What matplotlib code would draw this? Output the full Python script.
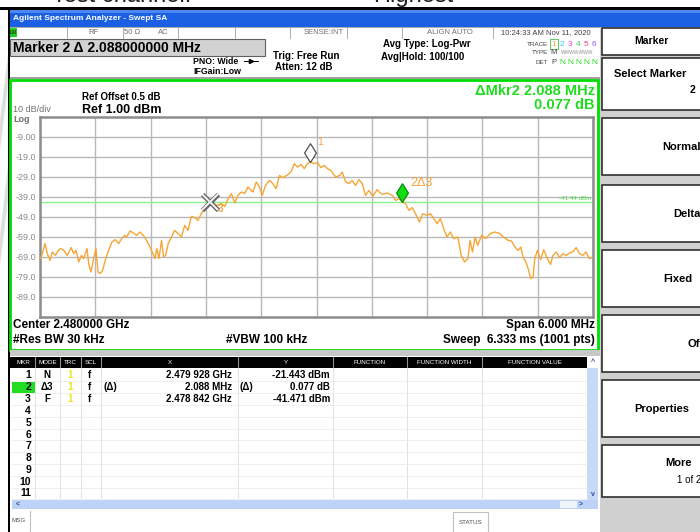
import numpy as np
import matplotlib.pyplot as plt
from matplotlib.patches import Rectangle, Polygon
from matplotlib.path import Path

plt.rcParams['font.family'] = ['Liberation Sans', 'DejaVu Sans']

# trace 1: offset from centre (MHz), level (dBm)
offset_mhz = [-2.993, -2.968, -2.946, -2.921, -2.892, -2.867, -2.831, -2.802, -2.777, -2.741,
              -2.705, -2.662, -2.634, -2.608, -2.580, -2.551, -2.526, -2.490, -2.472, -2.447,
              -2.418, -2.393, -2.371, -2.346, -2.321, -2.292, -2.256, -2.220, -2.184, -2.148,
              -2.113, -2.084, -2.059, -2.023, -1.987, -1.951, -1.915, -1.879, -1.843, -1.807,
              -1.782, -1.753, -1.732, -1.710, -1.681, -1.660, -1.638, -1.609, -1.574, -1.538,
              -1.502, -1.466, -1.430, -1.394, -1.358, -1.322, -1.286, -1.250, -1.214, -1.158,
              -1.085, -1.031, -0.995, -0.959, -0.923, -0.887, -0.852, -0.816, -0.780, -0.744,
              -0.719, -0.690, -0.654, -0.618, -0.589, -0.553, -0.510, -0.474, -0.438, -0.402,
              -0.366, -0.323, -0.277, -0.241, -0.205, -0.169, -0.133, -0.097, -0.072, -0.025,
              0.011, 0.047, 0.083, 0.119, 0.155, 0.208, 0.252, 0.280, 0.316, 0.352,
              0.388, 0.424, 0.460, 0.496, 0.532, 0.568, 0.611, 0.658, 0.679, 0.715,
              0.769, 0.823, 0.859, 0.895, 0.930, 0.966, 1.002, 1.038, 1.074, 1.117,
              1.153, 1.200, 1.236, 1.272, 1.308, 1.344, 1.380, 1.416, 1.452, 1.488,
              1.534, 1.570, 1.606, 1.642, 1.667, 1.692, 1.721, 1.749, 1.792, 1.836,
              1.883, 1.937, 1.990, 2.026, 2.080, 2.116, 2.152, 2.188, 2.217, 2.242,
              2.267, 2.296, 2.325, 2.350, 2.368, 2.397, 2.432, 2.465, 2.504, 2.540,
              2.565, 2.601, 2.637, 2.673, 2.709, 2.745, 2.781, 2.817, 2.853, 2.889,
              2.924, 2.960, 2.986]
level_dbm = [-69.8, -66.3, -62.3, -67.3, -70.7, -66.5, -68.2, -65.7, -64.8, -65.7,
             -68.2, -64.3, -67.3, -65.7, -71.5, -68.2, -69.8, -64.8, -72.3, -76.5,
             -69.8, -64.8, -76.5, -77.3, -75.7, -70.7, -65.7, -61.5, -60.3, -62.3,
             -59.8, -58.2, -59.0, -56.0, -57.0, -58.2, -56.5, -58.2, -60.7, -64.0,
             -66.5, -69.8, -64.8, -69.8, -60.7, -69.0, -68.2, -62.3, -59.0, -55.7,
             -57.3, -59.0, -53.2, -55.7, -48.7, -49.3, -50.7, -47.3, -44.8, -41.5,
             -43.2, -42.3, -43.7, -39.8, -37.3, -42.0, -38.2, -36.5, -37.3, -34.0,
             -35.3, -36.5, -31.5, -34.0, -38.2, -33.2, -30.7, -32.3, -34.8, -28.2,
             -29.3, -28.2, -26.5, -22.3, -24.0, -22.7, -24.8, -22.3, -21.4, -22.3,
             -21.8, -24.3, -23.2, -24.8, -25.7, -29.0, -28.2, -26.5, -31.5, -32.3,
             -30.7, -33.2, -30.3, -32.3, -38.2, -35.7, -38.7, -35.3, -36.5, -37.7,
             -37.0, -38.2, -40.7, -39.8, -41.4, -42.3, -45.7, -44.3, -47.3, -51.5,
             -47.3, -48.2, -47.3, -49.8, -52.3, -49.8, -54.8, -59.0, -56.5, -59.8,
             -59.0, -68.2, -71.5, -69.8, -60.7, -66.5, -59.0, -63.2, -58.2, -59.8,
             -57.3, -56.5, -57.3, -59.0, -60.7, -61.0, -64.0, -65.7, -64.0, -69.3,
             -71.0, -74.8, -79.8, -79.0, -69.8, -65.7, -70.3, -65.3, -69.8, -72.7,
             -68.2, -66.5, -69.3, -67.3, -68.2, -67.0, -66.5, -64.3, -67.3, -68.2,
             -66.5, -69.8, -69.3]

center_ghz = 2.480
span_mhz = 6.0
ref_dbm = 1.00
db_per_div = 10
threshold_dbm = -41.44

# markers 1, 2, 3
mkr_offset = [-0.072, 0.930, -1.158]
mkr_level = [-21.443, -41.394, -41.471]

table_mode = ['N', 'Δ3', 'F']
table_x = ['2.479 928 GHz', '2.088 MHz', '2.478 842 GHz']
table_y = ['-21.443 dBm', '0.077 dB', '-41.471 dBm']
table_cols = ['MKR', 'MODE', 'TRC', 'SCL', 'X', 'Y', 'FUNCTION', 'FUNCTION WIDTH', 'FUNCTION VALUE']
col_edges = [12, 35, 60, 81, 101, 238, 333, 407, 482, 587]

softkeys = [('Normal', 662, 118), ('Delta', 673, 185), ('Fixed', 663, 250),
            ('Off', 687, 315), ('Properties', 634, 380)]

ORANGE = '#f7a534'
GREEN = '#1fdc1f'

fig = plt.figure(figsize=(7, 5.32), dpi=100)
bg = fig.add_axes([0, 0, 1, 1])
bg.set_xlim(0, 700)
bg.set_ylim(532, 0)
bg.axis('off')


def box(x0, y0, x1, y1, fc, ec='none', lw=0.8):
    bg.add_patch(Rectangle((x0, y0), x1 - x0, y1 - y0, fc=fc, ec=ec, lw=lw))


def txt(x, y, s, size=7, ha='left', color='black', weight='bold'):
    bg.text(x, y, s, fontsize=size, ha=ha, va='center', color=color, fontweight=weight)


# caption cut off at the top + watermark at the left edge
bg.text(52, 2, 'Test channel:', fontsize=17, va='baseline', color='#202020')
bg.text(373, 2, 'Highest', fontsize=17, va='baseline', color='#202020')
bg.add_patch(Polygon([(0, 120), (8, 55), (8, 85), (0, 150)], fc='#dedede', ec='none'))
bg.add_patch(Polygon([(0, 235), (8, 165), (8, 200), (0, 265)], fc='#dedede', ec='none'))

# window frame and title bar
box(8, 10, 700, 532, '#d4d4d4')
box(0, 7, 700, 10, 'black')
box(8, 7, 10, 532, 'black')
box(10, 10, 700, 27, '#1b5fe2')
box(10, 10, 700, 13, '#4c88f2')
txt(13, 18.5, 'Agilent Spectrum Analyzer - Swept SA', size=6, color='white')

# status row
box(10, 27, 600, 38, 'white', ec='#a0a0a0', lw=0.6)
for xs in [67, 123, 178, 235, 290, 347, 402, 493]:
    bg.plot([xs, xs], [27, 38], color='#a0a0a0', lw=0.6)
box(10, 28, 17, 37, '#22cc22')
txt(13.5, 32.5, 'LXI', size=3.3, ha='center', color='#104010')
for s, x in [('RF', 93), ('50 Ω', 132), ('AC', 163)]:
    txt(x, 33, s, size=5.5, ha='center', color='#707070', weight='normal')
txt(344, 33, 'SENSE:INT', size=5.5, ha='right', color='#707070', weight='normal')
txt(450, 33, 'ALIGN AUTO', size=5.5, ha='center', color='#707070', weight='normal')
txt(546, 33, '10:24:33 AM Nov 11, 2020', size=5.5, ha='center', color='#404040', weight='normal')

# header area
box(10, 38, 600, 79, 'white')
box(10, 39, 265, 56, '#d2d2d2', ec='#606060')
txt(13, 47.5, 'Marker 2 Δ 2.088000000 MHz', size=10)
txt(193, 61, 'PNO: Wide', size=6.3)
bg.plot([244, 258], [61, 61], color='black', lw=0.7)
bg.plot(251, 61, marker='>', ms=3, color='black')
txt(193, 71, 'IFGain:Low', size=6.3)
txt(273, 56, 'Trig: Free Run', size=7)
txt(275, 67, 'Atten: 12 dB', size=7)
txt(383, 44, 'Avg Type: Log-Pwr', size=7)
txt(381, 57, 'Avg|Hold: 100/100', size=7)
txt(548, 44, 'TRACE', size=4.5, ha='right', color='#404040', weight='normal')
txt(548, 53, 'TYPE', size=4.5, ha='right', color='#404040', weight='normal')
txt(548, 63, 'DET', size=4.5, ha='right', color='#404040', weight='normal')
box(550, 39, 558, 49, 'none', ec='#40c040', lw=0.6)
for i, c in enumerate(['#f7a534', '#30c0f0', '#f040e0', '#40d060', '#f04080', '#9060f0']):
    txt(554 + 8 * i, 44, str(i + 1), size=6, ha='center', color=c, weight='normal')
txt(554, 53, 'M', size=5.5, ha='center', color='#404040', weight='normal')
txt(561, 53, 'WWWWWWW', size=3.5, color='#909090', weight='normal')
txt(554, 63, 'P', size=5.5, ha='center', color='#404040', weight='normal')
for i in range(5):
    txt(562 + 8 * i, 63, 'N', size=6, ha='center', color=GREEN, weight='normal')
box(10, 77, 600, 79, '#a0a0a0')

# graticule panel
box(10, 80, 598, 350, 'white', ec='#00dd00', lw=2)
txt(82, 97, 'Ref Offset 0.5 dB', size=7)
txt(82, 110, f'Ref {ref_dbm:.2f} dBm', size=9)
txt(13, 109, f'{db_per_div} dB/div', size=6.5, color='#707070', weight='normal')
txt(13, 119.5, 'Log', size=6.5, color='#707070')
txt(595, 91, 'ΔMkr2 2.088 MHz', size=10.5, ha='right', color=GREEN)
txt(595, 105, '0.077 dB', size=10.5, ha='right', color=GREEN)
txt(13, 325, f'Center {center_ghz:.6f} GHz', size=8.5)
txt(13, 340, '#Res BW 30 kHz', size=8.5)
txt(226, 340, '#VBW 100 kHz', size=8.5)
txt(595, 325, f'Span {span_mhz:.3f} MHz', size=8.5, ha='right')
txt(595, 340, 'Sweep  6.333 ms (1001 pts)', size=8.5, ha='right')

# marker table
box(10, 350, 600, 356, '#c8c8c8')
box(10, 356, 600, 510, 'white')
box(10, 357, 587, 368, 'black')
for i, name in enumerate(table_cols):
    txt((col_edges[i] + col_edges[i + 1]) / 2, 362.5, name, size=4.5, ha='center',
        color='white', weight='normal')
for xs in col_edges[1:-1]:
    bg.plot([xs, xs], [357, 368], color='#909090', lw=0.8)
    bg.plot([xs, xs], [368, 500], color='#e2e2e2', lw=0.7)
row_h = 11.8
for i in range(11):
    yc = 375.5 + i * row_h
    bg.plot([12, 587], [yc + row_h / 2] * 2, color='#ececec', lw=0.6)
    if i == 1:
        box(12, yc - 5.6, 35, yc + 5.6, '#22dd22')
    txt(31, yc, str(i + 1), size=7.5, ha='right')
    if i < 3:
        txt(47, yc, table_mode[i], size=7, ha='center')
        txt(70, yc, '1', size=7, ha='center', color='#f0e020')
        txt(90, yc, 'f', size=7, ha='center')
        txt(232, yc, table_x[i], size=7, ha='right')
        txt(330, yc, table_y[i], size=7, ha='right')
        if table_mode[i].startswith('Δ'):
            txt(104, yc, '(Δ)', size=7)
            txt(240, yc, '(Δ)', size=7)
box(587, 368, 598, 500, '#c6d9f7')
txt(592.5, 362.5, '^', size=5, ha='center', color='#3050a0')
txt(592.5, 494, 'v', size=5, ha='center', color='#3050a0')
box(12, 500, 598, 509, '#bcd2f6')
box(560, 501, 577, 508, '#eef3fc')
txt(16, 504.5, '<', size=5, color='#3050a0')
txt(579, 504.5, '>', size=5, color='#3050a0')
box(10, 510, 600, 532, 'white')
txt(12, 521, 'MSG', size=4.5, color='#505050', weight='normal')
bg.plot([30, 30], [511, 532], color='#c0c0c0', lw=0.8)
box(453, 512, 488, 533, 'white', ec='#c0c0c0')
txt(470.5, 523, 'STATUS', size=4.5, ha='center', color='#505050', weight='normal')

# softkey panel
box(600, 27, 700, 532, '#d0d0d0')
box(602, 28, 702, 55, 'white', ec='#303030', lw=1.2)
txt(651, 41, 'Marker', size=7.5, ha='center')
box(602, 58, 702, 110, 'white', ec='#303030', lw=1.2)
txt(614, 74, 'Select Marker', size=8)
txt(690, 90, '2', size=7.5)
for label, x0, top in softkeys:
    box(602, top, 702, top + 57, 'white', ec='#303030', lw=1.2)
    txt(x0, top + 29, label, size=8)
box(602, 445, 702, 497, 'white', ec='#303030', lw=1.2)
txt(665, 463, 'More', size=8)
txt(677, 480, '1 of 2', size=7, weight='normal')

# trace window
ax = fig.add_axes([40 / 700, 1 - 317 / 532, 553 / 700, 200 / 532])
ax.set_xlim(-span_mhz / 2, span_mhz / 2)
ax.set_ylim(ref_dbm - 10 * db_per_div, ref_dbm)
ax.set_xticks(np.linspace(-span_mhz / 2, span_mhz / 2, 11))
ax.set_xticklabels([])
yt = np.arange(ref_dbm - 9 * db_per_div, ref_dbm, db_per_div)
ax.set_yticks(yt)
ax.set_yticklabels([f'{v:.2f}' if abs(v) < 10 else f'{v:.1f}' for v in yt])
ax.tick_params(length=0, labelsize=6.5, labelcolor='#8a8a8a', pad=3)
ax.grid(color='#b8b8b8', lw=1.0)
for sp in ax.spines.values():
    sp.set_color('#8c8c8c')
    sp.set_linewidth(1.8)

ax.axhline(threshold_dbm, color='#8cf28c', lw=1.0, zorder=2)
ax.text(span_mhz / 2 - 0.02, threshold_dbm + 0.6, f'{threshold_dbm:.2f} dBm', ha='right',
        va='bottom', fontsize=4.5, color='#4cd84c')
ax.plot(offset_mhz, level_dbm, color=ORANGE, lw=1.0, zorder=3)

diamond = Path([(0, 0), (0.63, 1), (0, 2), (-0.63, 1), (0, 0)],
               [Path.MOVETO, Path.LINETO, Path.LINETO, Path.LINETO, Path.CLOSEPOLY])
ax.plot(mkr_offset[0], mkr_level[0], marker=diamond, ms=27, mfc='white', mec='#505050',
        mew=0.9, zorder=5, clip_on=False)
ax.annotate('1', (mkr_offset[0], mkr_level[0]), xytext=(5.5, 14), textcoords='offset points',
            fontsize=7.5, color=ORANGE, va='center')
ax.plot(mkr_offset[1], mkr_level[1], marker=diamond, ms=27, mfc='#11dd11', mec='#0a8a0a',
        mew=0.9, zorder=5, clip_on=False)
ax.annotate('2Δ3', (mkr_offset[1], mkr_level[1]), xytext=(6, 13.5), textcoords='offset points',
            fontsize=9, color=ORANGE, va='center')
ax.plot(mkr_offset[2], mkr_level[2], marker='x', ms=12, mew=3.4, color='#6a6a6a', zorder=5)
ax.plot(mkr_offset[2], mkr_level[2], marker='x', ms=11, mew=1.3, color='white', zorder=6)
ax.annotate('3', (mkr_offset[2], mkr_level[2]), xytext=(6, -5), textcoords='offset points',
            fontsize=7, color=ORANGE, fontweight='bold', va='center')

fig.savefig('out.png', dpi=100)
